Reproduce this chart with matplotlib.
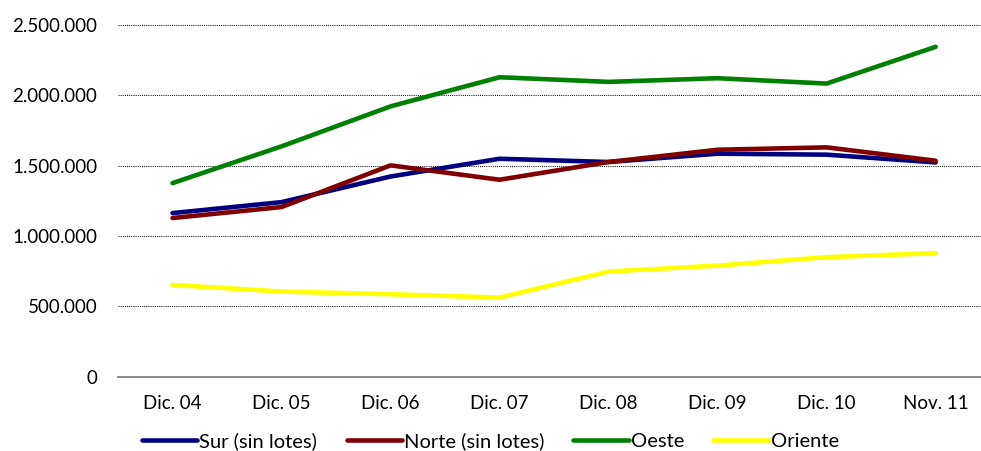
import matplotlib
matplotlib.use("Agg")
import matplotlib.pyplot as plt
from matplotlib.ticker import FuncFormatter, MultipleLocator

# datos
periodos = ["Dic. 04", "Dic. 05", "Dic. 06", "Dic. 07", "Dic. 08", "Dic. 09", "Dic. 10", "Nov. 11"]
sur = [1162000, 1240000, 1422000, 1548000, 1525000, 1584000, 1577000, 1522000]
norte = [1127000, 1205000, 1501000, 1399000, 1525000, 1612000, 1629000, 1534000]
oeste = [1375000, 1636000, 1920000, 2127000, 2094000, 2120000, 2082000, 2343000]
oriente = [652000, 605000, 586000, 562000, 747000, 789000, 849000, 878000]

series = [("Sur (sin lotes)", sur, "#000080"),
          ("Norte (sin lotes)", norte, "#800000"),
          ("Oeste", oeste, "#008000"),
          ("Oriente", oriente, "#FFFF00")]

plt.rcParams["font.family"] = ["Lato", "DejaVu Sans"]

fig = plt.figure(figsize=(9.81, 4.51), dpi=100)
ax = fig.add_axes([0.1203, 0.1647, 0.889, 0.7805])

x = range(len(periodos))
for nombre, vals, col in series:
    ax.plot(x, vals, color=col, lw=3.3, label=nombre, solid_capstyle="round")

ax.set_xlim(-0.5, len(periodos) - 0.5)
ax.set_ylim(0, 2500000)
ax.yaxis.set_major_locator(MultipleLocator(500000))
ax.yaxis.set_major_formatter(FuncFormatter(lambda v, p: f"{int(v):,}".replace(",", ".")))
ax.set_xticks(list(x))
ax.set_xticklabels(periodos)
ax.grid(axis="y", color="black", lw=0.7, linestyle=(0, (1, 1.2)))
ax.set_axisbelow(True)
for s in ["top", "right", "left"]:
    ax.spines[s].set_visible(False)
ax.spines["bottom"].set_color("#808080")
ax.spines["bottom"].set_linewidth(1.3)
ax.tick_params(axis="both", length=0, labelsize=13.5, colors="black")
ax.tick_params(axis="y", pad=15)
ax.tick_params(axis="x", pad=13)

fig.legend(loc="center", bbox_to_anchor=(0.5, 0.021), ncol=4, frameon=False,
           fontsize=14.5, handlelength=2.75, handletextpad=0.1, columnspacing=1.45,
           borderaxespad=0)

fig.savefig("out.png", dpi=100)
